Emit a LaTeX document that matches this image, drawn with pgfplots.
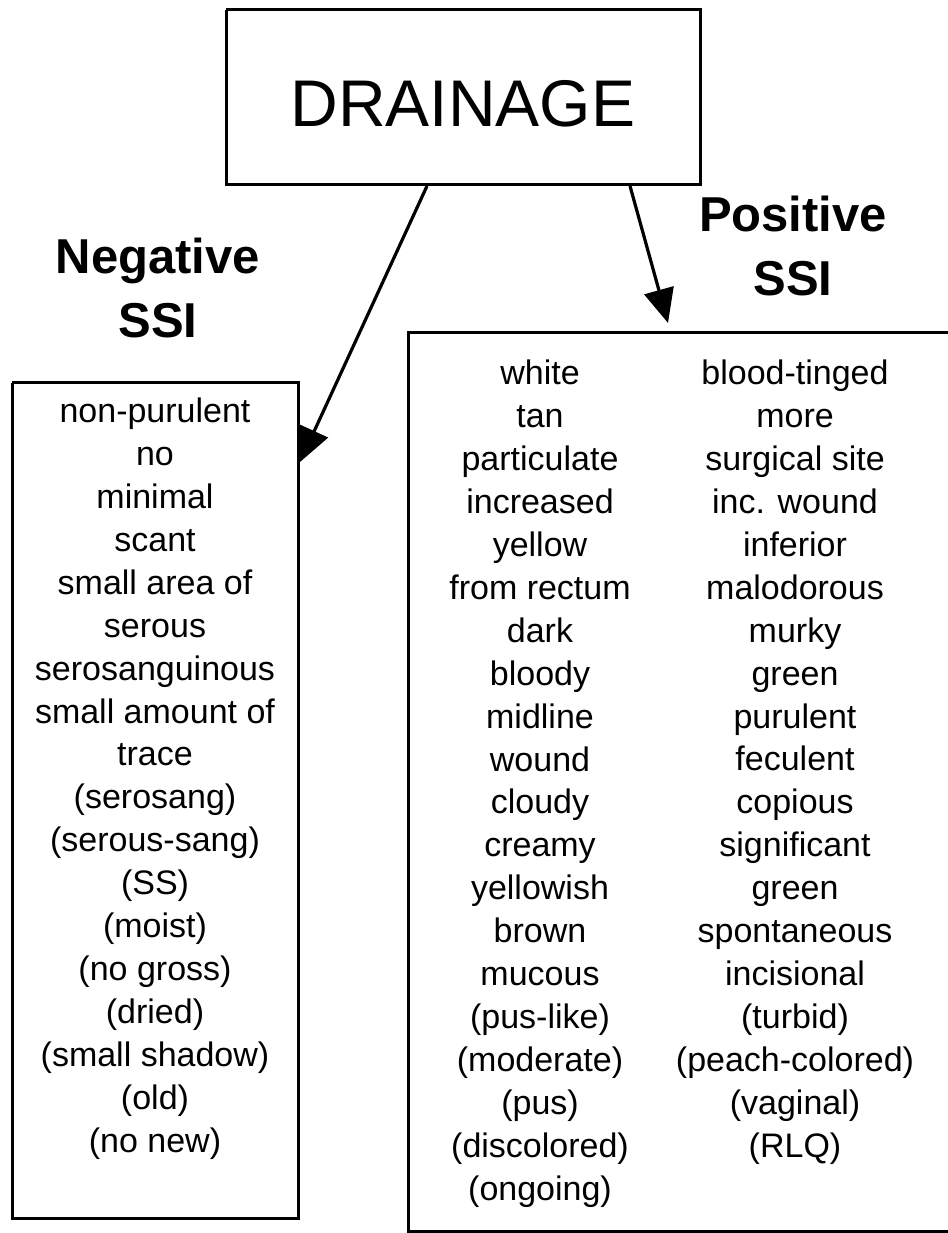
\documentclass[border=0pt]{standalone}
\usepackage{pgfplots}
\pgfplotsset{compat=1.18}
\usetikzlibrary{arrows.meta}
\usepackage{fontspec}
\setmainfont{Liberation Sans}
\begin{document}
\begin{tikzpicture}
\begin{axis}[width=473.5pt,height=616.5pt,scale only axis,
  xmin=0,xmax=947,ymin=0,ymax=1233,y dir=reverse,hide axis,clip=false]
% boxes
\addplot[black,line width=1.5pt,line join=miter] coordinates {(226,10)(700,10)(700,185)(226,185)(226,10)};
\addplot[black,line width=1.5pt,line join=miter] coordinates {(12,383)(298,383)(298,1218)(12,1218)(12,383)};
\addplot[black,line width=1.5pt,line join=miter] coordinates {(980,333)(408,333)(408,1231)(980,1231)};
% arrows
\addplot[black,line width=1.6pt,-{Triangle[length=17pt,width=15pt]}] coordinates {(427,186)(300,462)};
\addplot[black,line width=1.6pt,-{Triangle[length=17pt,width=15pt]}] coordinates {(630,186)(668,323)};
% texts (anchor=base is the baseline of the last line)
\node[anchor=center,font=\fontsize{33pt}{36pt}\selectfont] at (axis cs:463,104) {DRAINAGE};
\node[anchor=base,align=center,font=\fontsize{24.5pt}{32pt}\selectfont\bfseries] at (axis cs:158,338) {Negative\\SSI};
\node[anchor=base,align=center,font=\fontsize{24.5pt}{32pt}\selectfont\bfseries] at (axis cs:793,296) {Positive\\SSI};
\node[anchor=base,align=center,font=\fontsize{17pt}{21.45pt}\selectfont] at (axis cs:155,1152) {non-purulent\\no\\minimal\\scant\\small area of\\serous\\serosanguinous\\small amount of\\trace\\(serosang)\\(serous-sang)\\(SS)\\(moist)\\(no gross)\\(dried)\\(small shadow)\\(old)\\(no new)};
\node[anchor=base,align=center,font=\fontsize{17pt}{21.45pt}\selectfont] at (axis cs:540,1200) {white\\tan\\particulate\\increased\\yellow\\from rectum\\dark\\bloody\\midline\\wound\\cloudy\\creamy\\yellowish\\brown\\mucous\\(pus-like)\\(moderate)\\(pus)\\(discolored)\\(ongoing)};
\node[anchor=base,align=center,font=\fontsize{17pt}{21.45pt}\selectfont] at (axis cs:795,1157) {blood-tinged\\more\\surgical site\\inc. wound\\inferior\\malodorous\\murky\\green\\purulent\\feculent\\copious\\significant\\green\\spontaneous\\incisional\\(turbid)\\(peach-colored)\\(vaginal)\\(RLQ)};
\end{axis}
\pgfresetboundingbox
\path (current axis.south west) rectangle (current axis.north east);
\end{tikzpicture}
\end{document}
